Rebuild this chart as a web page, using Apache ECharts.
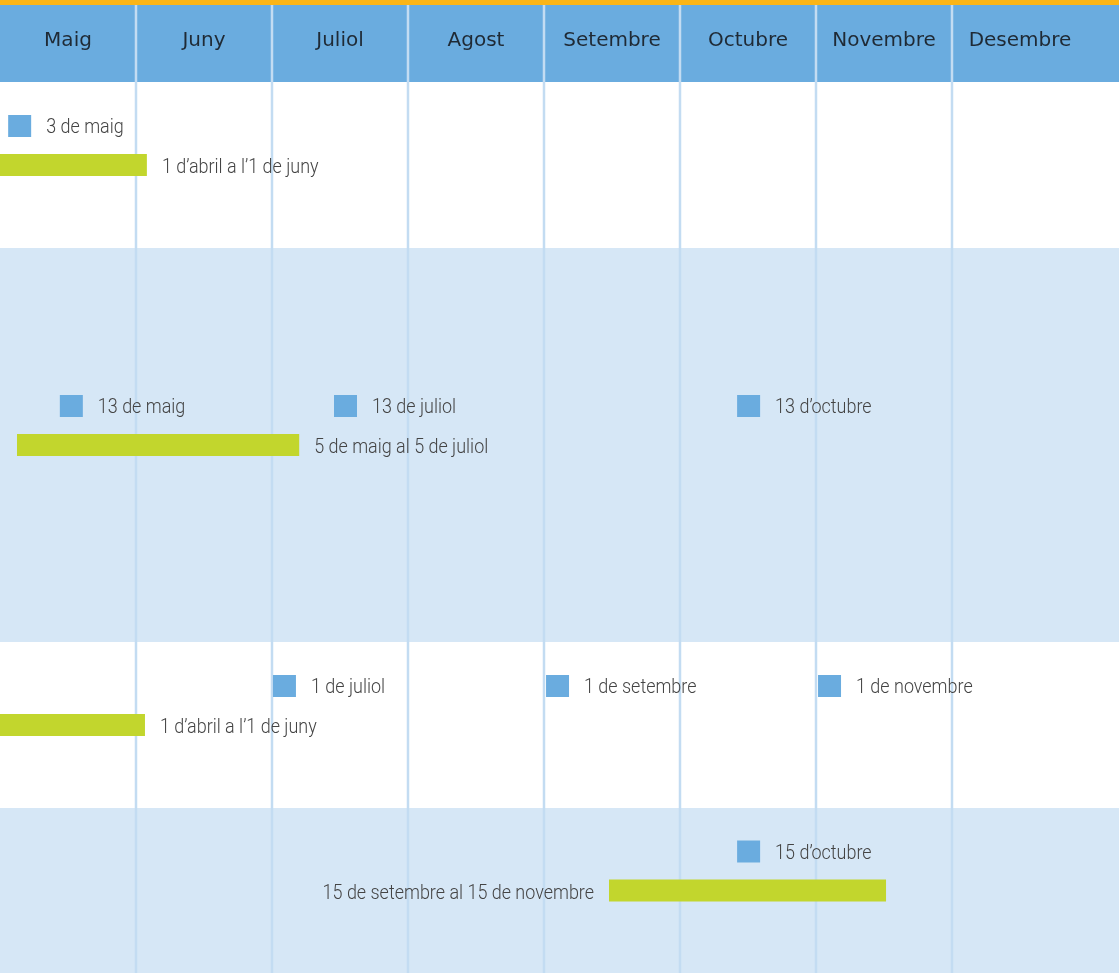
<!DOCTYPE html>
<html><head><meta charset="utf-8">
<script src="https://cdn.jsdelivr.net/npm/echarts@6/dist/echarts.min.js"></script>
<style>html,body{margin:0;padding:0;background:#fff}#c{width:1119px;height:973px}</style>
</head><body><div id="c"></div>
<script>
// Month columns (x unit = one month, 0 = 1 May)
const months = ['Maig','Juny','Juliol','Agost','Setembre','Octubre','Novembre','Desembre'];
const xMax = 8.228;
// Vertical extent (y units), header band then four rows
const headerBounds = [0, 77];
const rowBounds = [77, 243, 637, 803, 968];

// Point events (blue squares)
const eventRows   = [0, 1, 1, 1, 2, 2, 2, 3];
const eventX      = [0.06, 0.44, 2.456, 5.42, 2.007, 4.015, 6.015, 5.42];
const eventLabels = ['3 de maig','13 de maig','13 de juliol','13 d\u2019octubre','1 de juliol','1 de setembre','1 de novembre','15 d\u2019octubre'];

// Periods (green bars)
const periodRows   = [0, 1, 2, 3];
const periodStart  = [-1, 0.125, -1, 4.478];
const periodEnd    = [1.08, 2.2, 1.066, 6.515];
const periodLabels = ['1 d\u2019abril a l\u20191 de juny','5 de maig al 5 de juliol','1 d\u2019abril a l\u20191 de juny','15 de setembre al 15 de novembre'];
const periodLabelLeft = [false, false, false, true];

const LABEL_FONT = 'Roboto';
const LABEL_SCALE = 0.855;
const chart = echarts.init(document.getElementById('c'));

const bandData = [[headerBounds[0], headerBounds[1], -1]];
for (let i = 0; i < rowBounds.length - 1; i++) bandData.push([rowBounds[i], rowBounds[i+1], i]);
const boundaryData = months.slice(1).map((m, i) => [i + 1]);

function rowCenter(r){ return (rowBounds[r] + rowBounds[r+1]) / 2; }
function labelStyle(text, align){
  return {text, fill:'#444444', fontSize:21, fontWeight:300, fontFamily:LABEL_FONT, align, verticalAlign:'middle'};
}

chart.setOption({
  animation: false,
  backgroundColor: '#fff',
  graphic: [{type:'rect', left:0, top:0, shape:{width:1119, height:5}, style:{fill:'#fbb517'}, z:10}],
  grid: {left:0, right:0, top:5, bottom:0},
  xAxis: [{
    type:'value', min:0, max:xMax, interval:1,
    axisLine:{show:false}, axisTick:{show:false}, axisLabel:{show:false}, splitLine:{show:false}
  },{
    type:'value', position:'top', min:0, max:xMax, interval:0.5, z:4,
    axisLine:{show:false}, axisTick:{show:false}, splitLine:{show:false},
    axisLabel:{inside:true, margin:36, verticalAlign:'middle', color:'#1f2a35', fontSize:20, fontFamily:'DejaVu Sans',
      showMinLabel:false, showMaxLabel:false,
      formatter: v => (Math.abs(v % 1 - 0.5) < 1e-6) ? months[Math.floor(v)] : ''}
  }],
  yAxis: {type:'value', inverse:true, min:0, max:968, show:false, splitLine:{show:false}},
  series: [{
    type:'custom', z:1, silent:true,
    data: bandData,
    renderItem: (params, api) => {
      const r = api.value(2);
      const p0 = api.coord([0, api.value(0)]);
      const p1 = api.coord([xMax, api.value(1)]);
      const fill = r < 0 ? '#6aacdf' : (r % 2 === 1 ? '#d6e7f6' : '#ffffff');
      return {type:'rect', shape:{x:p0[0], y:p0[1], width:p1[0]-p0[0], height:p1[1]-p0[1]}, style:{fill}};
    }
  },{
    type:'custom', z:2, silent:true,
    data: boundaryData,
    renderItem: (params, api) => {
      const a = api.coord([api.value(0), 0]);
      const b = api.coord([api.value(0), 968]);
      return {type:'line', shape:{x1:a[0], y1:a[1], x2:b[0], y2:b[1]}, style:{stroke:'#c3dcf2', lineWidth:2.5}};
    }
  },{
    type:'custom', z:5, silent:true, clip:true,
    data: periodRows.map((r,i) => [r, periodStart[i], periodEnd[i]]),
    renderItem: (params, api) => {
      const i = params.dataIndex;
      const yc = rowCenter(api.value(0));
      const a = api.coord([api.value(1), yc]);
      const b = api.coord([api.value(2), yc]);
      const left = periodLabelLeft[i];
      return {type:'group', children:[
        {type:'rect', shape:{x:a[0], y:a[1]-11, width:b[0]-a[0], height:22}, style:{fill:'#c2d62d'}},
        {type:'text', x: left ? a[0]-15 : b[0]+15, y:a[1]+3, scaleX:LABEL_SCALE,
          style:labelStyle(periodLabels[i], left ? 'right' : 'left')}
      ]};
    }
  },{
    type:'custom', z:5, silent:true,
    data: eventRows.map((r,i) => [r, eventX[i]]),
    renderItem: (params, api) => {
      const i = params.dataIndex;
      const yc = rowCenter(api.value(0)) - 39;
      const p = api.coord([api.value(1), yc]);
      return {type:'group', children:[
        {type:'rect', shape:{x:p[0], y:p[1]-11, width:23, height:22}, style:{fill:'#6aacdf'}},
        {type:'text', x:p[0]+38, y:p[1]+2, scaleX:LABEL_SCALE, style:labelStyle(eventLabels[i], 'left')}
      ]};
    }
  }]
});
</script></body></html>
